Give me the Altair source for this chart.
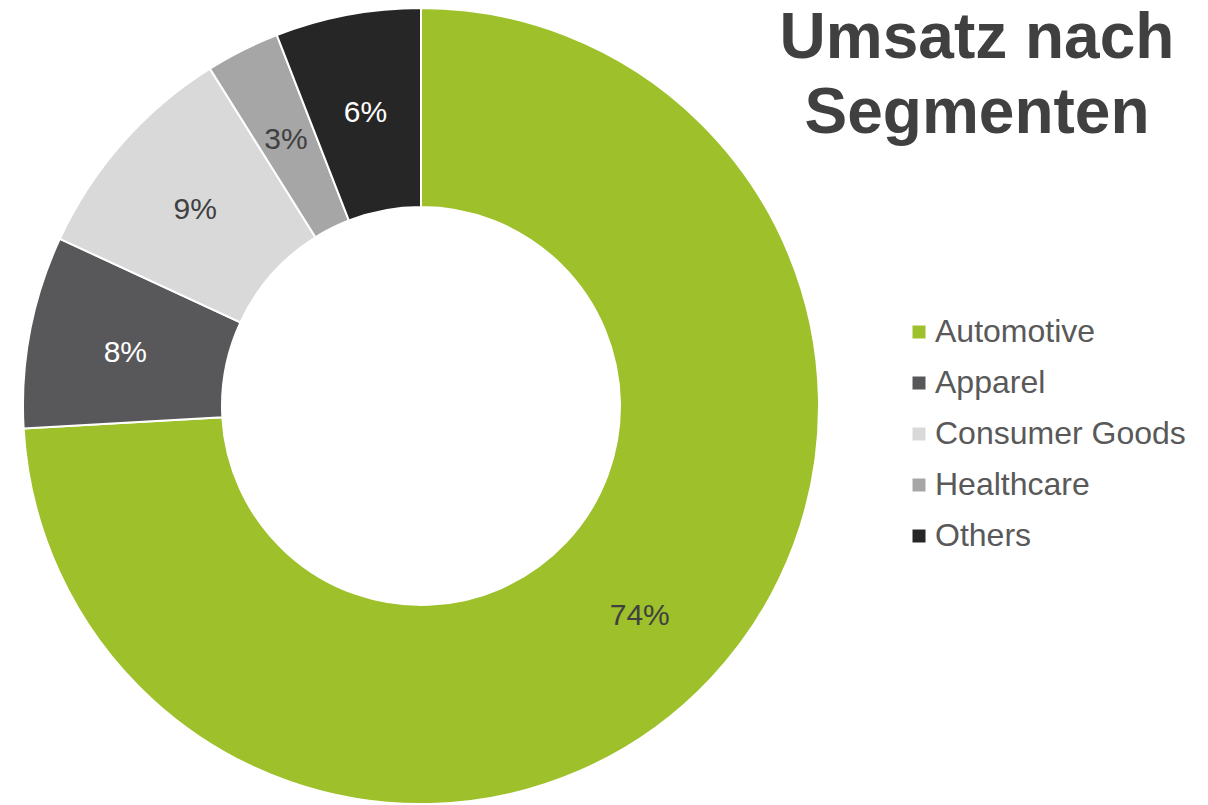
import altair as alt
import pandas as pd

segments = ["Automotive", "Apparel", "Consumer Goods", "Healthcare", "Others"]
shares = [74.1, 7.8, 9.2, 3.0, 5.9]
labels = ["74%", "8%", "9%", "3%", "6%"]
colors = ["#9DC02B", "#58585A", "#D9D9D9", "#A6A6A6", "#262626"]
title_lines = ["Umsatz nach", "Segmenten"]

df = pd.DataFrame({
    "segment": segments,
    "share": shares,
    "label": labels,
    "idx": list(range(len(segments))),
})

CX, CY = 413, 398
R_OUT, R_IN = 398, 199

base = alt.Chart(df).encode(
    theta=alt.Theta("share:Q", stack=True),
    order=alt.Order("idx:Q"),
)

arcs = base.mark_arc(
    outerRadius=R_OUT, innerRadius=R_IN, stroke="white", strokeWidth=2
).encode(
    x=alt.value(CX),
    y=alt.value(CY),
    color=alt.Color(
        "segment:N",
        sort=segments,
        scale=alt.Scale(domain=segments, range=colors),
        legend=alt.Legend(
            title=None,
            orient="none",
            legendX=895,
            legendY=308,
            symbolType="square",
            symbolSize=169,
            symbolStrokeWidth=0,
            labelFont="Liberation Sans",
            labelFontSize=32,
            labelColor="#595959",
            labelOffset=0,
            rowPadding=19,
            padding=0,
            labelLimit=400,
        ),
    ),
)

texts = base.mark_text(
    radius=301, font="Liberation Sans", fontSize=30, dy=3
).encode(
    x=alt.value(CX),
    y=alt.value(CY),
    text="label:N",
    color=alt.condition(
        alt.FieldOneOfPredicate(field="segment", oneOf=["Apparel", "Others"]),
        alt.value("white"),
        alt.value("#404040"),
    ),
)

title = alt.Chart(pd.DataFrame({"t": [0]})).mark_text(
    text=title_lines,
    font="Liberation Sans",
    fontSize=64,
    fontWeight="bold",
    color="#404040",
    align="center",
    baseline="alphabetic",
    lineHeight=75,
).encode(x=alt.value(969), y=alt.value(50))

chart = (
    alt.layer(arcs, texts, title)
    .properties(
        width=1192,
        height=797,
        autosize=alt.AutoSizeParams(type="none"),
        padding={"left": 0, "top": 0, "right": 0, "bottom": 0},
    )
    .configure_view(stroke=None)
)

chart.save("out.html", embed_options={"renderer": "svg", "actions": False})
